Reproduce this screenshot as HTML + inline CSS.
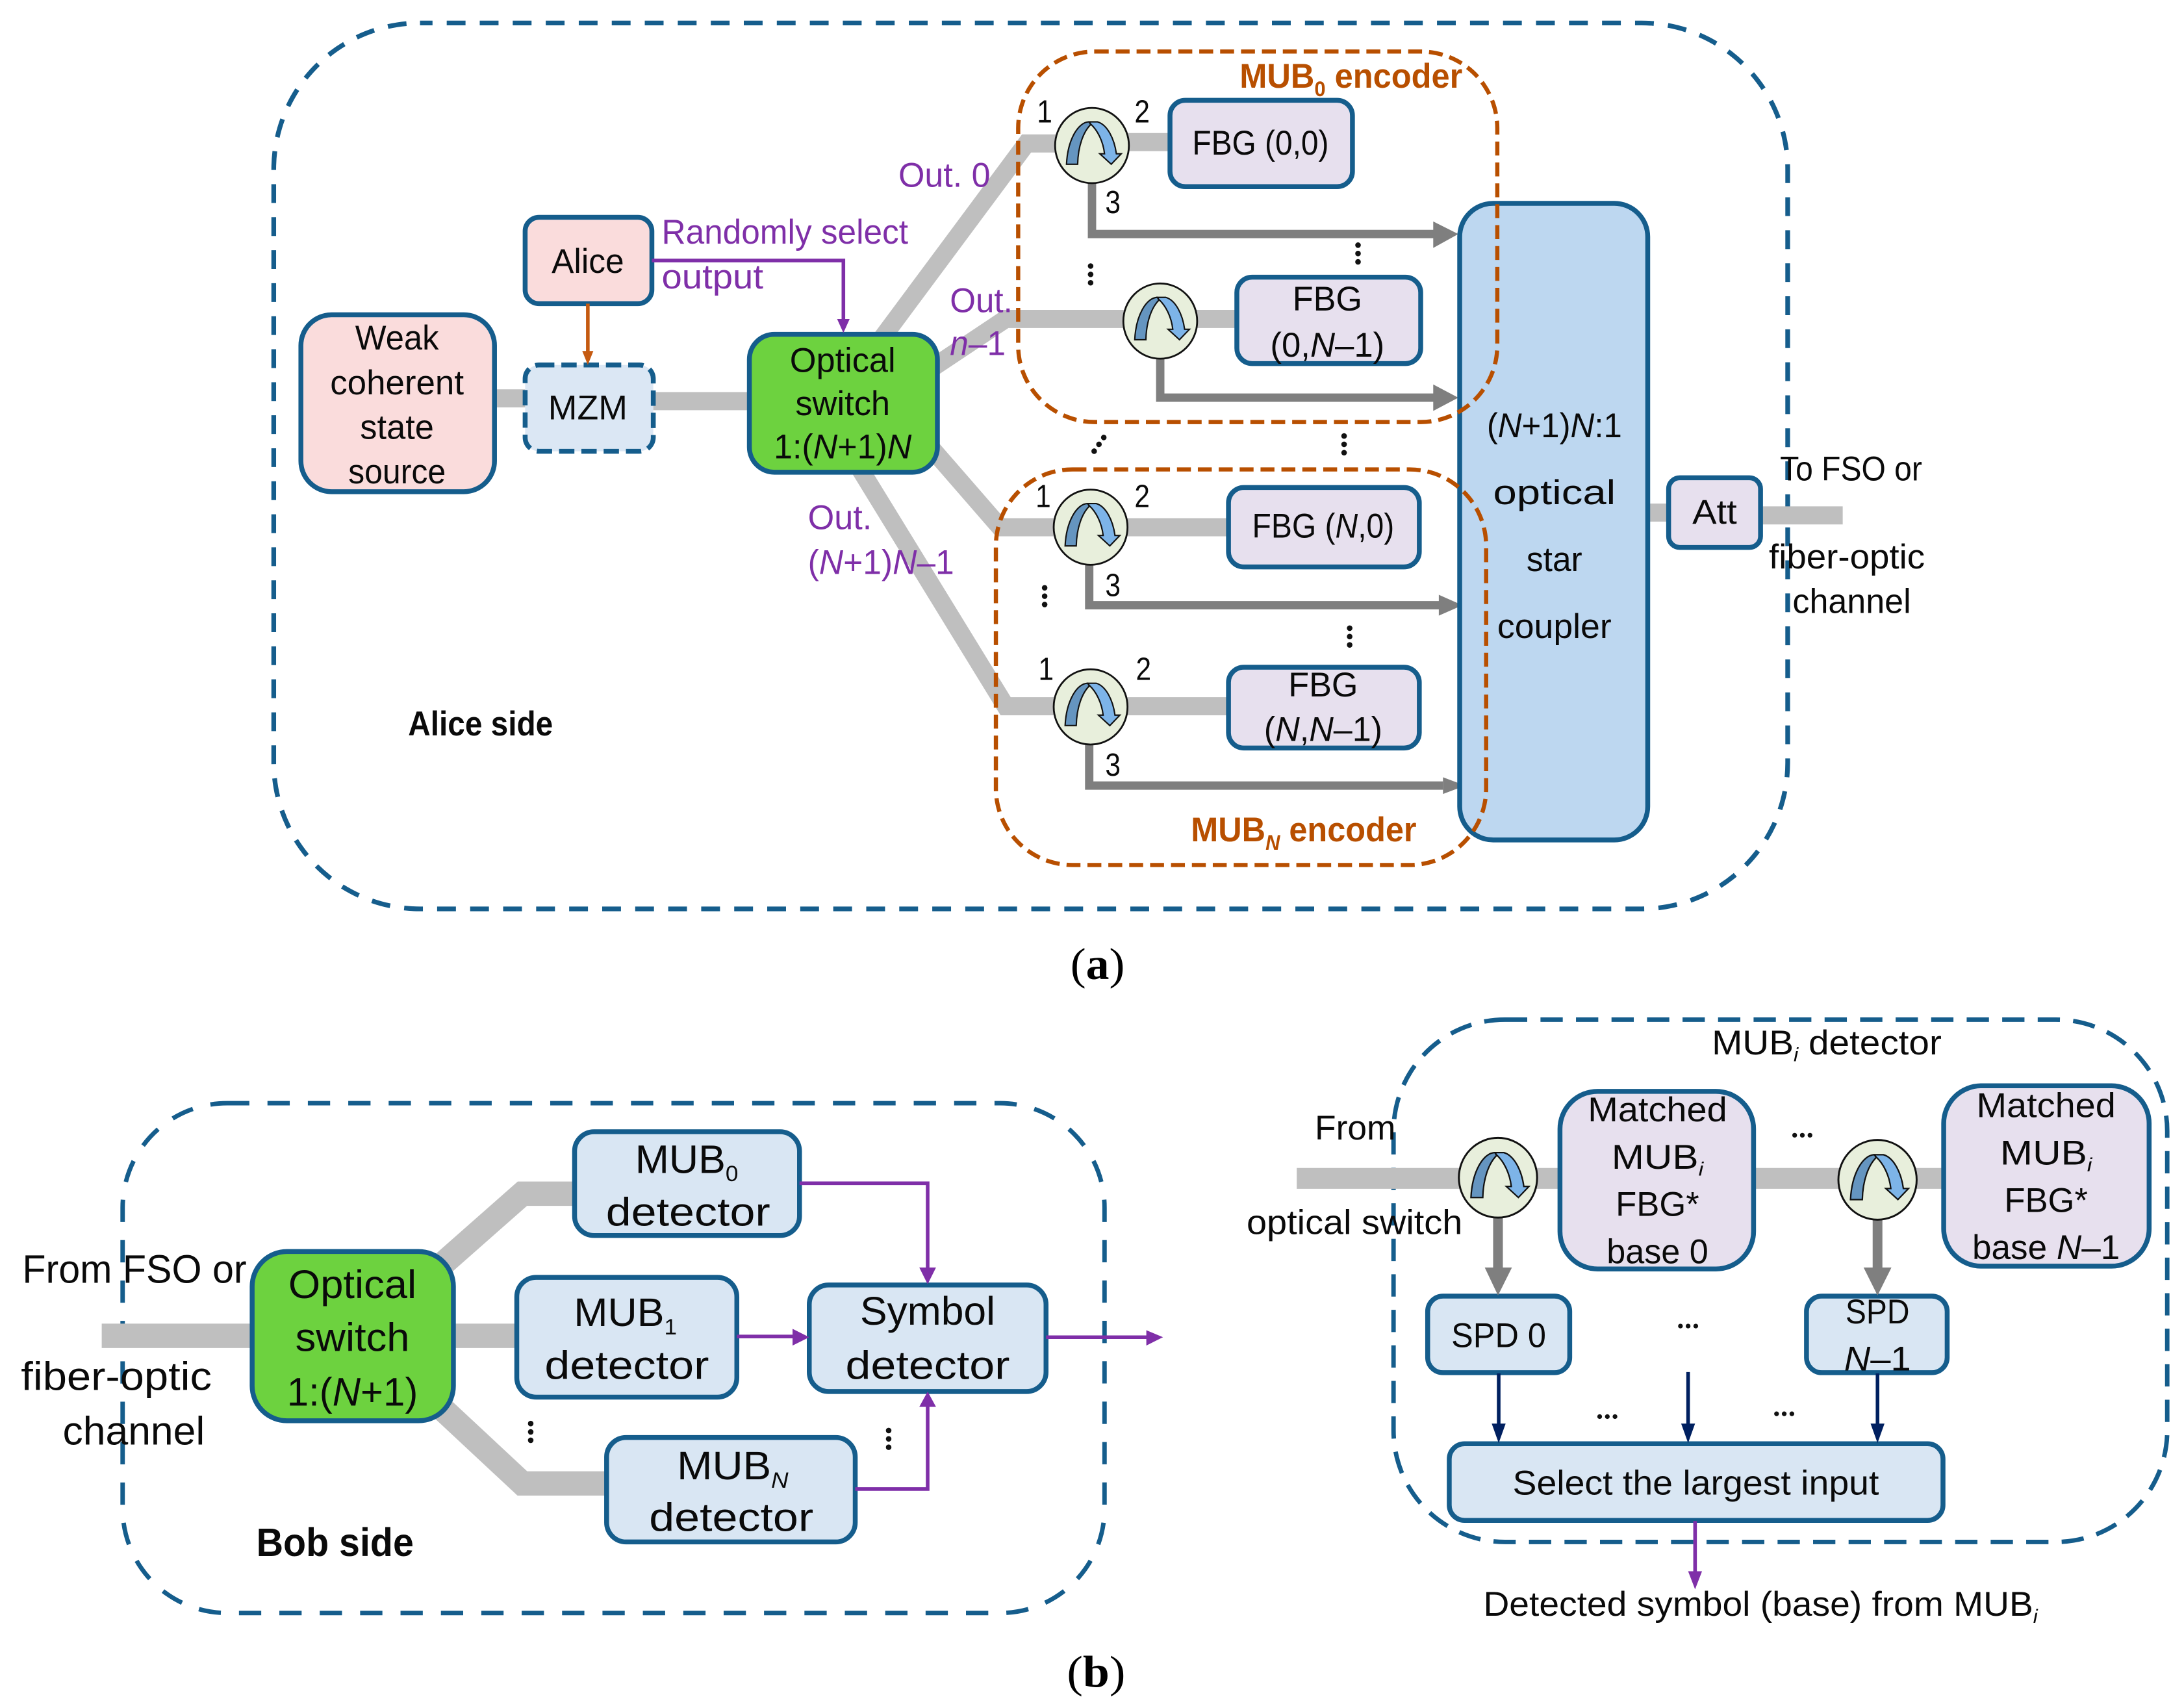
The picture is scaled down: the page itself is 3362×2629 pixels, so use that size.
<!DOCTYPE html>
<html><head><meta charset="utf-8"><style>
html,body{margin:0;padding:0;background:#fff}
svg{display:block}
text{font-family:"Liberation Sans",sans-serif;fill:#0a0a0a;text-anchor:middle}
.s{font-size:24.500px}
.st{text-anchor:start}
.p{fill:#7f2fa8}
.b{font-weight:bold}
.o{fill:#b84f00;font-weight:bold}
.l{font-size:28.500px}
.n{font-size:23px}
.cap{font-family:"Liberation Serif",serif;font-size:32px;fill:#000}
.box{stroke:#155d8c;stroke-width:3.5}
.g{stroke:#bfbfbf;fill:none}
.ga{stroke:#7f7f7f;fill:none;stroke-width:6}
.pu{stroke:#7f2fa8;fill:none;stroke-width:2.6}
.nv{stroke:#002060;fill:none;stroke-width:2.6}
</style></head><body>
<svg xmlns="http://www.w3.org/2000/svg" width="3362" height="2629" viewBox="0 0 1568 1226.2">
<defs>
<g id="circ">
<ellipse cx="0" cy="0" rx="26.500" ry="27" fill="#e8efdc" stroke="#111" stroke-width="1.3"/>
<path d="M-18.300,13.400 C-17.500,-4 -10,-17 -2,-17 L-1,-15 C-6,-10 -10,0 -10.300,13.400 Z" fill="#6595c0" stroke="#111" stroke-width="1"/>
<path d="M-1,-15.500 L-2,-17 L4,-17 C11,-15 16,-5 17.500,5.900 L21,5.900 L13.800,13.400 L5.600,5.900 L9,5.900 C8,-3 4,-11 -1,-15.500 Z" fill="#7db4e8" stroke="#111" stroke-width="1"/>
</g>
<g id="vd" fill="#111"><circle cx="0" cy="-6" r="2"/><circle cx="0" cy="0" r="2"/><circle cx="0" cy="6" r="2"/></g>
<g id="hd" fill="#111"><circle cx="-5.500" cy="0" r="1.700"/><circle cx="0" cy="0" r="1.700"/><circle cx="5.500" cy="0" r="1.700"/></g>
</defs>

<!-- Alice outer -->
<rect x="196.500" y="16.500" width="1087" height="636" rx="105" fill="none" stroke="#155d8c" stroke-width="3.4" stroke-dasharray="13.500 10.200" stroke-dashoffset="4.500"/>

<!-- grey fibres -->
<g class="g" stroke-width="13">
<path d="M355,286 H377"/><path d="M469,288 H538"/>
<path d="M630,247 L737,103 H770"/>
<path d="M668,265 L722,229 H888"/>
<path d="M668,321 L718,378.500 H882"/>
<path d="M617,336 L722,507 H882"/>
<path d="M810,102 H840"/>
<path d="M1183,368 H1198"/><path d="M1264,370 H1323"/>
</g>

<!-- grey arrows -->
<path class="ga" d="M784,131 V168 H1030"/><polygon points="1029,159 1047,168 1029,178" fill="#7f7f7f"/>
<path class="ga" d="M833,257 V285.500 H1030"/><polygon points="1029,276 1047,285.500 1029,295" fill="#7f7f7f"/>
<path class="ga" d="M782,405 V434.500 H1034"/><polygon points="1033,427 1050,434.500 1033,442" fill="#7f7f7f"/>
<path class="ga" d="M782,534 V564 H1036"/><polygon points="1036,558 1052,564 1036,570" fill="#7f7f7f"/>

<!-- Alice boxes -->
<rect class="box" x="216" y="226" width="139" height="127" rx="22" fill="#fadcdc"/>
<rect class="box" x="377" y="156" width="91" height="62" rx="10" fill="#fadcdc"/>
<rect x="377" y="262" width="92" height="62" rx="10" fill="#dbe7f4" stroke="#155d8c" stroke-width="3.500" stroke-dasharray="11 5"/>
<rect class="box" x="538" y="240" width="135" height="99" rx="18" fill="#6dd23f"/>
<rect class="box" x="840" y="72" width="131" height="62" rx="11" fill="#e7e0ee"/>
<rect class="box" x="888" y="199" width="132" height="62" rx="11" fill="#e7e0ee"/>
<rect class="box" x="882" y="350" width="137" height="57" rx="11" fill="#e7e0ee"/>
<rect class="box" x="882" y="479" width="137" height="58" rx="11" fill="#e7e0ee"/>
<rect class="box" x="1048" y="146" width="135" height="457" rx="24" fill="#bdd7f0"/>
<rect class="box" x="1198" y="343" width="66" height="50" rx="8" fill="#e7e0ee"/>

<!-- encoder dashed -->
<rect x="731" y="37" width="344" height="266" rx="55" fill="none" stroke="#b84f00" stroke-width="3" stroke-dasharray="10 5"/>
<rect x="715" y="337" width="352" height="284" rx="55" fill="none" stroke="#b84f00" stroke-width="3" stroke-dasharray="10 5"/>

<use href="#circ" x="784" y="104.500"/>
<use href="#circ" x="833" y="230.500"/>
<use href="#circ" x="783" y="378.500"/>
<use href="#circ" x="783" y="507.500"/>

<!-- Alice connectors -->
<path d="M422,218 V254" stroke="#c55a11" stroke-width="2.600" fill="none"/><polygon points="418,252 426,252 422,262" fill="#c55a11"/>
<path class="pu" d="M468,187 H605.500 V230"/><polygon points="601,229 610,229 605.500,239" fill="#7f2fa8"/>

<!-- Alice text -->
<text class="s" x="285" y="251" textLength="60" lengthAdjust="spacingAndGlyphs">Weak</text>
<text class="s" x="285" y="283" textLength="96" lengthAdjust="spacingAndGlyphs">coherent</text>
<text class="s" x="285" y="315" textLength="53" lengthAdjust="spacingAndGlyphs">state</text>
<text class="s" x="285" y="347" textLength="70" lengthAdjust="spacingAndGlyphs">source</text>
<text class="s" x="422" y="196" textLength="52" lengthAdjust="spacingAndGlyphs">Alice</text>
<text class="s" x="422" y="301" textLength="57" lengthAdjust="spacingAndGlyphs">MZM</text>
<text class="s" x="605" y="267" textLength="76" lengthAdjust="spacingAndGlyphs">Optical</text>
<text class="s" x="605" y="298" textLength="68" lengthAdjust="spacingAndGlyphs">switch</text>
<text class="s" x="605" y="329" textLength="99" lengthAdjust="spacingAndGlyphs">1:(<tspan font-style="italic">N</tspan>+1)<tspan font-style="italic">N</tspan></text>
<text class="s p st" x="475" y="175" textLength="177" lengthAdjust="spacingAndGlyphs">Randomly select</text>
<text class="s p st" x="475" y="207" textLength="73" lengthAdjust="spacingAndGlyphs">output</text>
<text class="s p st" x="645" y="134" textLength="66" lengthAdjust="spacingAndGlyphs">Out. 0</text>
<text class="s p st" x="682" y="224" textLength="45" lengthAdjust="spacingAndGlyphs">Out.</text>
<text class="s p st" x="682" y="255" textLength="40" lengthAdjust="spacingAndGlyphs"><tspan font-style="italic">n</tspan>–1</text>
<text class="s p st" x="580" y="380" textLength="46" lengthAdjust="spacingAndGlyphs">Out.</text>
<text class="s p st" x="580" y="412" textLength="105" lengthAdjust="spacingAndGlyphs">(<tspan font-style="italic">N</tspan>+1)<tspan font-style="italic">N</tspan>–1</text>

<text class="s o st" x="890" y="63" textLength="160" lengthAdjust="spacingAndGlyphs">MUB<tspan font-size="15" dy="6">0</tspan><tspan dy="-6"> encoder</tspan></text>
<text class="s o st" x="855" y="604" textLength="162" lengthAdjust="spacingAndGlyphs">MUB<tspan font-size="15" dy="6" font-style="italic">N</tspan><tspan dy="-6"> encoder</tspan></text>

<text class="s" x="905" y="111" textLength="98" lengthAdjust="spacingAndGlyphs">FBG (0,0)</text>
<text class="s" x="953" y="223" textLength="50" lengthAdjust="spacingAndGlyphs">FBG</text>
<text class="s" x="953" y="256" textLength="82" lengthAdjust="spacingAndGlyphs">(0,<tspan font-style="italic">N</tspan>–1)</text>
<text class="s" x="950" y="386" textLength="102" lengthAdjust="spacingAndGlyphs">FBG (<tspan font-style="italic">N</tspan>,0)</text>
<text class="s" x="950" y="500" textLength="50" lengthAdjust="spacingAndGlyphs">FBG</text>
<text class="s" x="950" y="532" textLength="85" lengthAdjust="spacingAndGlyphs">(<tspan font-style="italic">N</tspan>,<tspan font-style="italic">N</tspan>–1)</text>

<text class="n" x="750" y="88" textLength="11" lengthAdjust="spacingAndGlyphs">1</text><text class="n" x="820" y="88" textLength="11" lengthAdjust="spacingAndGlyphs">2</text><text class="n" x="799" y="153" textLength="11" lengthAdjust="spacingAndGlyphs">3</text>
<text class="n" x="749" y="364" textLength="11" lengthAdjust="spacingAndGlyphs">1</text><text class="n" x="820" y="364" textLength="11" lengthAdjust="spacingAndGlyphs">2</text><text class="n" x="799" y="428" textLength="11" lengthAdjust="spacingAndGlyphs">3</text>
<text class="n" x="751" y="488" textLength="11" lengthAdjust="spacingAndGlyphs">1</text><text class="n" x="821" y="488" textLength="11" lengthAdjust="spacingAndGlyphs">2</text><text class="n" x="799" y="557" textLength="11" lengthAdjust="spacingAndGlyphs">3</text>

<use href="#vd" x="975" y="182"/>
<use href="#vd" x="783" y="197"/>
<use href="#vd" x="965" y="319"/>
<use href="#vd" x="789" y="319" transform="rotate(35 789 319)"/>
<use href="#vd" x="750" y="428"/>
<use href="#vd" x="969" y="457"/>

<text class="s b st" x="293" y="528" textLength="104" lengthAdjust="spacingAndGlyphs">Alice side</text>
<text class="s" x="1116" y="314" textLength="97" lengthAdjust="spacingAndGlyphs">(<tspan font-style="italic">N</tspan>+1)<tspan font-style="italic">N</tspan>:1</text>
<text class="s" x="1116" y="362" textLength="88" lengthAdjust="spacingAndGlyphs">optical</text>
<text class="s" x="1116" y="410" textLength="40" lengthAdjust="spacingAndGlyphs">star</text>
<text class="s" x="1116" y="458" textLength="82" lengthAdjust="spacingAndGlyphs">coupler</text>
<text class="s" x="1231" y="376" textLength="32" lengthAdjust="spacingAndGlyphs">Att</text>
<text class="s st" x="1278" y="345" textLength="102" lengthAdjust="spacingAndGlyphs">To FSO or</text>
<text class="s st" x="1270" y="408" textLength="112" lengthAdjust="spacingAndGlyphs">fiber-optic</text>
<text class="s st" x="1287" y="440" textLength="85" lengthAdjust="spacingAndGlyphs">channel</text>

<text class="cap" x="788" y="703" textLength="39" lengthAdjust="spacingAndGlyphs">(<tspan font-weight="bold">a</tspan>)</text>

<!-- Bob side -->
<rect x="88" y="792" width="705" height="366" rx="75" fill="none" stroke="#155d8c" stroke-width="3.2" stroke-dasharray="16 13"/>
<g class="g" stroke-width="17.500">
<path d="M73,959 H181"/><path d="M325,959 H371"/>
<path d="M316,909 L375,857 H412"/>
<path d="M316,1010 L375,1065 H435"/>
</g>
<rect class="box" x="181" y="898.500" width="144.500" height="121.500" rx="25" fill="#6dd23f" stroke-width="4"/>
<rect class="box" x="412.500" y="812.500" width="161.500" height="74.500" rx="14" fill="#d9e6f3"/>
<rect class="box" x="371" y="917" width="158" height="86" rx="14" fill="#d9e6f3"/>
<rect class="box" x="435.500" y="1032" width="178.500" height="75" rx="14" fill="#d9e6f3"/>
<rect class="box" x="581" y="922.500" width="170" height="76.500" rx="14" fill="#d9e6f3"/>

<path class="pu" d="M574,849.500 H666 V912"/><polygon points="660,910 672,910 666,922" fill="#7f2fa8"/>
<path class="pu" d="M529,959.500 H570"/><polygon points="569,954 581,960 569,966" fill="#7f2fa8"/>
<path class="pu" d="M751,960 H824"/><polygon points="823,955 835,960 823,966" fill="#7f2fa8"/>
<path class="pu" d="M614,1069 H666 V1008"/><polygon points="660,1010 672,1010 666,999" fill="#7f2fa8"/>

<text class="l st" x="16" y="921" textLength="161" lengthAdjust="spacingAndGlyphs">From FSO or</text>
<text class="l st" x="15" y="998" textLength="137" lengthAdjust="spacingAndGlyphs">fiber-optic</text>
<text class="l st" x="45" y="1037" textLength="102" lengthAdjust="spacingAndGlyphs">channel</text>
<text class="l" x="253" y="932" textLength="92" lengthAdjust="spacingAndGlyphs">Optical</text>
<text class="l" x="253" y="970" textLength="82" lengthAdjust="spacingAndGlyphs">switch</text>
<text class="l" x="253" y="1009" textLength="94" lengthAdjust="spacingAndGlyphs">1:(<tspan font-style="italic">N</tspan>+1)</text>
<text class="l st" x="456" y="842" textLength="74" lengthAdjust="spacingAndGlyphs">MUB<tspan font-size="16" dy="6">0</tspan></text>
<text class="l" x="494" y="880" textLength="118" lengthAdjust="spacingAndGlyphs">detector</text>
<text class="l st" x="412" y="952" textLength="74" lengthAdjust="spacingAndGlyphs">MUB<tspan font-size="16" dy="6">1</tspan></text>
<text class="l" x="450" y="990" textLength="118" lengthAdjust="spacingAndGlyphs">detector</text>
<text class="l st" x="486" y="1062" textLength="80" lengthAdjust="spacingAndGlyphs">MUB<tspan font-size="16" dy="6" font-style="italic">N</tspan></text>
<text class="l" x="525" y="1099" textLength="118" lengthAdjust="spacingAndGlyphs">detector</text>
<text class="l" x="666" y="951" textLength="97" lengthAdjust="spacingAndGlyphs">Symbol</text>
<text class="l" x="666" y="990" textLength="118" lengthAdjust="spacingAndGlyphs">detector</text>
<text class="l b st" x="184" y="1117" textLength="113" lengthAdjust="spacingAndGlyphs">Bob side</text>
<use href="#vd" x="381" y="1028"/>
<use href="#vd" x="638" y="1033"/>

<text class="cap" x="787" y="1211" textLength="42" lengthAdjust="spacingAndGlyphs">(<tspan font-weight="bold">b</tspan>)</text>

<!-- MUBi detector -->
<rect x="1000.500" y="732" width="555.500" height="375" rx="80" fill="none" stroke="#155d8c" stroke-width="3.2" stroke-dasharray="16 9.500"/>
<g class="g" stroke-width="15">
<path d="M931,846 H1120"/><path d="M1259,846 H1396"/>
</g>
<rect class="box" x="1120" y="783.500" width="139" height="127.500" rx="27" fill="#e7e0ee"/>
<rect class="box" x="1395.500" y="779.500" width="147.500" height="129.500" rx="27" fill="#e7e0ee"/>
<rect class="box" x="1025" y="930.500" width="102" height="55" rx="11" fill="#d9e6f3"/>
<rect class="box" x="1297" y="930.500" width="101" height="55" rx="11" fill="#d9e6f3"/>
<rect class="box" x="1040.500" y="1036.500" width="354.500" height="55" rx="11" fill="#d9e6f3"/>

<path d="M1075.500,872 V912" stroke="#7f7f7f" stroke-width="7" fill="none"/><polygon points="1066,910 1085.500,910 1075.500,930" fill="#7f7f7f"/>
<path d="M1348,874 V912" stroke="#7f7f7f" stroke-width="7" fill="none"/><polygon points="1338,910 1358,910 1348,930" fill="#7f7f7f"/>
<g transform="translate(1075.500,845.500) scale(1.06)"><use href="#circ"/></g>
<g transform="translate(1348,847) scale(1.06)"><use href="#circ"/></g>

<path class="nv" d="M1076,986 V1024"/><polygon points="1071,1022 1081,1022 1076,1036" fill="#002060"/>
<path class="nv" d="M1212,985 V1024"/><polygon points="1207,1022 1217,1022 1212,1036" fill="#002060"/>
<path class="nv" d="M1348,986 V1024"/><polygon points="1343,1022 1353,1022 1348,1036" fill="#002060"/>
<path class="pu" d="M1217,1092 V1130"/><polygon points="1212,1128 1222,1128 1217,1141" fill="#7f2fa8"/>

<text class="s st" x="1229" y="757" textLength="165" lengthAdjust="spacingAndGlyphs">MUB<tspan font-size="14" dy="5" font-style="italic">i</tspan><tspan dy="-5"> detector</tspan></text>
<text class="s st" x="944" y="818" textLength="58" lengthAdjust="spacingAndGlyphs">From</text>
<text class="s st" x="895" y="886" textLength="155" lengthAdjust="spacingAndGlyphs">optical switch</text>
<text class="s" x="1190" y="805" textLength="100" lengthAdjust="spacingAndGlyphs">Matched</text>
<text class="s" x="1190" y="839" textLength="66" lengthAdjust="spacingAndGlyphs">MUB<tspan font-size="14" dy="5" font-style="italic">i</tspan></text>
<text class="s" x="1190" y="873" textLength="60" lengthAdjust="spacingAndGlyphs">FBG*</text>
<text class="s" x="1190" y="907" textLength="73" lengthAdjust="spacingAndGlyphs">base 0</text>
<text class="s" x="1469" y="802" textLength="100" lengthAdjust="spacingAndGlyphs">Matched</text>
<text class="s" x="1469" y="836" textLength="66" lengthAdjust="spacingAndGlyphs">MUB<tspan font-size="14" dy="5" font-style="italic">i</tspan></text>
<text class="s" x="1469" y="870" textLength="60" lengthAdjust="spacingAndGlyphs">FBG*</text>
<text class="s" x="1469" y="904" textLength="106" lengthAdjust="spacingAndGlyphs">base <tspan font-style="italic">N</tspan>–1</text>
<text class="s" x="1076" y="967" textLength="68" lengthAdjust="spacingAndGlyphs">SPD 0</text>
<text class="s" x="1348" y="950" textLength="46" lengthAdjust="spacingAndGlyphs">SPD</text>
<text class="s" x="1348" y="984" textLength="48" lengthAdjust="spacingAndGlyphs"><tspan font-style="italic">N</tspan>–1</text>
<text class="s" x="1217.500" y="1073" textLength="263" lengthAdjust="spacingAndGlyphs">Select the largest input</text>
<text class="s st" x="1065" y="1160" textLength="398" lengthAdjust="spacingAndGlyphs">Detected symbol (base) from MUB<tspan font-size="14" dy="5" font-style="italic">i</tspan></text>
<use href="#hd" x="1294" y="815"/>
<use href="#hd" x="1212" y="952"/>
<use href="#hd" x="1154" y="1017"/>
<use href="#hd" x="1281" y="1015"/>
</svg>
</body></html>
